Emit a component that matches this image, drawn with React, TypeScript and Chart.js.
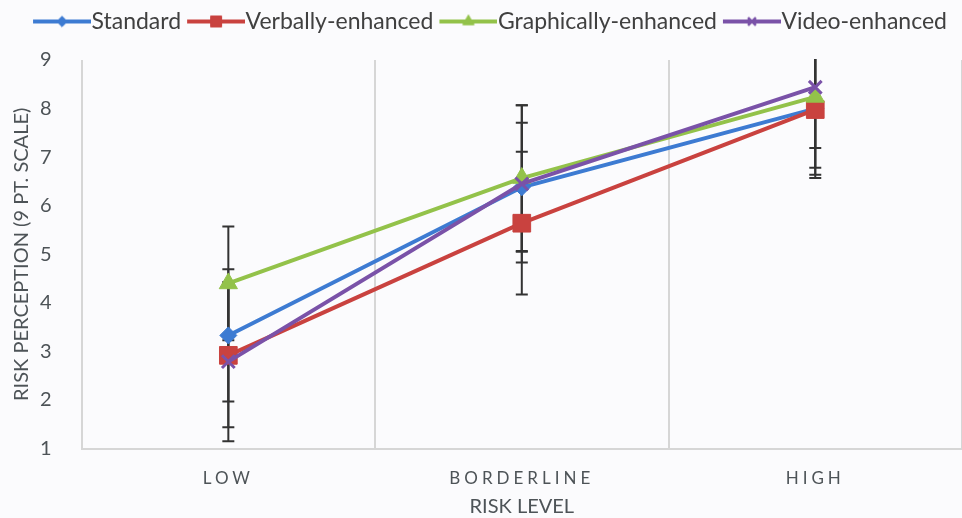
import React, { useEffect, useRef } from 'react';
import { Chart, registerables } from 'chart.js';
import { drawPoint } from 'chart.js/helpers';

Chart.register(...registerables);

const categories = ['LOW', 'BORDERLINE', 'HIGH'];
const seriesNames = ['Standard', 'Verbally-enhanced', 'Graphically-enhanced', 'Video-enhanced'];

const standardValues = [3.33, 6.38, 8.0];
const verballyValues = [2.92, 5.64, 7.98];
const graphicallyValues = [4.4, 6.57, 8.24];
const videoValues = [2.79, 6.45, 8.44];

const standardErrors = [1.36, 1.33, 1.36];
const verballyErrors = [1.48, 1.47, 1.2];
const graphicallyErrors = [1.17, 1.5, 1.67];
const videoErrors = [1.64, 1.62, 1.25];

const yTicks = [1, 2, 3, 4, 5, 6, 7, 8, 9];

const colors = ['#3d7bd2', '#c9423f', '#93c24a', '#7a52a8'];
const pointStyles = ['rectRot', 'rect', 'triangle', 'crossRot'];
const pointRadii = [8.5, 12.5, 10.5, 9];
const pointBorders = [1, 1, 1, 3];

const FONT = 'Lato, "Open Sans", sans-serif';
const LEGEND_SIZE = 23;
const BOX_W = 47;
const SHIFT = 11;

function makeIcon(i: number) {
  const c = document.createElement('canvas');
  const w = BOX_W + SHIFT * 2;
  c.width = w;
  c.height = 22;
  const ctx = c.getContext('2d')!;
  ctx.strokeStyle = colors[i];
  ctx.fillStyle = colors[i];
  ctx.lineWidth = 4;
  ctx.beginPath();
  ctx.moveTo(SHIFT, 11);
  ctx.lineTo(w, 11);
  ctx.stroke();
  ctx.lineWidth = pointBorders[i] === 3 ? 2.5 : 1;
  drawPoint(ctx, { pointStyle: pointStyles[i], radius: pointRadii[i] * 0.62, rotation: 0, borderWidth: 1 } as any, SHIFT + (w - SHIFT) / 2, 11);
  return c;
}

const errorBarPlugin = {
  id: 'errorBars',
  beforeDatasetsDraw(chart: any) {
    const { ctx, chartArea, scales } = chart;
    const x = scales.x;
    const y = scales.y;
    const errs = [standardErrors, verballyErrors, graphicallyErrors, videoErrors];
    ctx.save();
    ctx.beginPath();
    ctx.rect(chartArea.left, chartArea.top - 1, chartArea.right - chartArea.left, chartArea.bottom - chartArea.top + 2);
    ctx.clip();
    ctx.strokeStyle = '#333333';
    ctx.lineWidth = 2;
    chart.data.datasets.forEach((ds: any, di: number) => {
      ds.data.forEach((v: number, i: number) => {
        const e = errs[di][i];
        const px = x.getPixelForValue(i);
        const top = y.getPixelForValue(v + e);
        const bot = y.getPixelForValue(v - e);
        ctx.beginPath();
        ctx.moveTo(px, top);
        ctx.lineTo(px, bot);
        ctx.moveTo(px - 6, top);
        ctx.lineTo(px + 6, top);
        ctx.moveTo(px - 6, bot);
        ctx.lineTo(px + 6, bot);
        ctx.stroke();
      });
    });
    ctx.restore();
  },
};

const layoutPlugin = {
  id: 'layoutTweak',
  afterInit(chart: any) {
    const legend = chart.legend;
    if (legend && !legend.__patched) {
      const fit = legend.fit.bind(legend);
      legend.fit = function () {
        fit();
        this.height += 17;
      };
      const draw = legend.draw.bind(legend);
      legend.draw = function () {
        const ctx = chart.ctx;
        ctx.save();
        ctx.translate(7, 0);
        draw();
        ctx.restore();
      };
      legend.__patched = true;
    }
  },
  beforeDraw(chart: any) {
    const { ctx, width, height } = chart;
    ctx.save();
    ctx.fillStyle = '#fbfbfd';
    ctx.fillRect(0, 0, width, height);
    ctx.restore();
    const xs = chart.scales.x;
    if (xs && !xs.__spaced) {
      const orig = xs.drawLabels.bind(xs);
      xs.drawLabels = (area: any) => {
        ctx.save();
        ctx.letterSpacing = '4px';
        orig(area);
        ctx.restore();
      };
      xs.__spaced = true;
    }
  },
};

export default function App() {
  const ref = useRef<HTMLCanvasElement>(null);
  useEffect(() => {
    document.body.style.margin = '0';
    const icons = [0, 1, 2, 3].map(makeIcon);
    const values = [standardValues, verballyValues, graphicallyValues, videoValues];
    const chart = new Chart(ref.current!, {
      type: 'line',
      data: {
        labels: categories,
        datasets: seriesNames.map((name, i) => ({
          label: name,
          data: values[i],
          borderColor: colors[i],
          backgroundColor: colors[i],
          borderWidth: 4,
          pointStyle: pointStyles[i] as any,
          pointRadius: pointRadii[i],
          pointBorderWidth: pointBorders[i],
          pointBackgroundColor: colors[i],
          pointBorderColor: colors[i],
          tension: 0,
          order: 3 - i,
        })),
      },
      options: {
        animation: false,
        responsive: false,
        devicePixelRatio: 1,
        layout: { autoPadding: false, padding: { top: 4, right: 0, left: 4, bottom: 0 } },
        plugins: {
          tooltip: { enabled: false },
          legend: {
            position: 'top',
            labels: {
              usePointStyle: true,
              pointStyleWidth: BOX_W,
              padding: 6,
              color: '#404040',
              font: { family: FONT, size: LEGEND_SIZE },
              generateLabels: () =>
                seriesNames.map((name, i) => ({
                  text: name,
                  fillStyle: colors[i],
                  strokeStyle: colors[i],
                  lineWidth: 0,
                  pointStyle: icons[i] as any,
                  datasetIndex: i,
                  hidden: false,
                  fontColor: '#404040',
                })),
            },
          },
        },
        scales: {
          x: {
            type: 'category',
            offset: true,
            grid: { display: true, offset: true, color: '#d6d6d6', lineWidth: 2, drawTicks: false },
            border: { display: true, color: '#d6d6d6', width: 2 },
            ticks: { color: '#4d5357', font: { family: FONT, size: 17 }, padding: 20 },
            title: { display: true, text: 'RISK LEVEL', color: '#4d5357', font: { family: FONT, size: 20 }, padding: { top: -14, bottom: -1 } },
          },
          y: {
            min: 1,
            max: 9,
            afterBuildTicks: (scale: any) => {
              scale.ticks = yTicks.map((v) => ({ value: v }));
            },
            grid: { display: false, drawTicks: false },
            border: { display: false },
            ticks: { color: '#4d5357', font: { family: FONT, size: 20 }, padding: 30 },
            title: { display: true, text: 'RISK PERCEPTION (9 PT. SCALE)', color: '#4d5357', font: { family: FONT, size: 20 }, padding: { top: 6, bottom: -24 } },
          },
        },
      },
      plugins: [layoutPlugin, errorBarPlugin],
    });
    return () => chart.destroy();
  }, []);
  return (
    <div style={{ width: 962, height: 518 }}>
      <canvas ref={ref} width={962} height={518} style={{ display: 'block' }} />
    </div>
  );
}
